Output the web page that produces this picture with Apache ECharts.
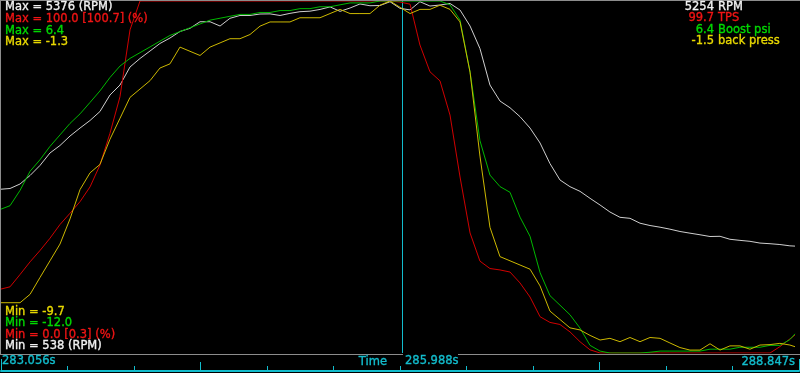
<!DOCTYPE html>
<html><head><meta charset="utf-8">
<script src="https://cdn.jsdelivr.net/npm/echarts@6/dist/echarts.min.js"></script>
<style>html,body{margin:0;padding:0;background:#000;overflow:hidden}#c{width:800px;height:373px}</style>
</head><body><div id="c"></div>
<script>
// Time stamps (s)
const timeSec = [283.056,283.129,283.202,283.275,283.347,283.420,283.493,283.566,283.639,283.712,
283.784,283.857,283.930,284.003,284.076,284.149,284.221,284.294,284.367,284.440,
284.513,284.586,284.659,284.731,284.804,284.877,284.950,285.023,285.096,285.168,
285.241,285.314,285.387,285.460,285.533,285.606,285.678,285.751,285.824,285.897,
285.970,286.043,286.115,286.188,286.261,286.334,286.407,286.480,286.552,286.625,
286.698,286.771,286.844,286.917,286.990,287.062,287.135,287.208,287.281,287.354,
287.427,287.499,287.572,287.645,287.718,287.791,287.864,287.936,288.009,288.082,
288.155,288.228,288.301,288.373,288.446,288.519,288.592,288.665,288.737,288.810,288.847];

const rpm = [2788,2799,2861,2978,3115,3287,3390,3520,3630,3734,
3857,4084,4221,4469,4586,4689,4792,4867,4957,5001,
5091,5091,5032,5138,5177,5177,5197,5199,5177,5206,
5229,5236,5260,5295,5234,5280,5335,5311,5314,5366,
5275,5254,5366,5307,5321,5342,5252,5032,4723,4221,
4001,3909,3786,3630,3424,3142,2916,2824,2760,2664,
2572,2476,2403,2389,2322,2290,2267,2240,2208,2185,
2163,2139,2142,2101,2086,2073,2049,2040,2029,2011,2007];

const tps = [18.1,18.8,22.3,25.9,29.1,32.6,36.5,39.7,43.0,47.2,
53.4,62.4,72.8,91.8,100,100,100,100,100,100,
100,100,100,100,100,100,100,100,100,100,
100,100,100,100,100,100,100,100,100,100,
99.7,99.1,87.5,79.9,77.3,67.6,50.0,34.1,26.1,24.0,
23.6,23.0,19.9,15.9,10.3,8.7,8.1,6.0,3.2,0.9,
0,0,0,0,0,0,0,0,0,0,
0,0,0,0,0,0,0,0,1.8,4.0,5.1];

const boost = [-4.5,-4.3,-3.5,-2.5,-1.9,-1.2,-0.6,0.0,0.5,1.1,
1.7,2.4,3.0,3.4,3.7,4.0,4.3,4.6,4.8,5.0,
5.2,5.4,5.5,5.6,5.7,5.7,5.8,5.8,5.9,5.9,
6.0,6.0,6.1,6.1,6.2,6.3,6.3,6.3,6.4,6.4,
6.4,6.4,6.4,6.4,6.4,6.2,5.4,2.7,-0.9,-2.7,
-3.3,-3.6,-4.9,-5.9,-7.8,-9.0,-9.5,-10.0,-10.7,-11.6,
-11.9,-12.0,-12.0,-12.0,-12.0,-11.96,-11.9,-11.9,-11.9,-11.9,
-11.9,-11.8,-11.8,-11.8,-11.7,-11.7,-11.7,-11.6,-11.6,-11.3,-11.0];

const backPress = [-8.5,-8.5,-8.5,-8.3,-7.9,-7.5,-7.1,-6.5,-5.8,-5.4,
-5.2,-4.6,-4.1,-3.6,-3.4,-3.2,-2.9,-2.8,-2.4,-2.5,
-2.6,-2.4,-2.3,-2.2,-2.2,-2.1,-1.9,-1.8,-1.8,-1.8,
-1.7,-1.7,-1.7,-1.6,-1.5,-1.6,-1.6,-1.6,-1.4,-1.3,
-1.45,-1.6,-1.5,-1.5,-1.4,-1.5,-1.8,-3.0,-5.0,-6.7,
-7.4,-7.5,-7.6,-7.7,-8.1,-8.7,-8.9,-9.1,-9.15,-9.28,
-9.39,-9.35,-9.43,-9.33,-9.43,-9.33,-9.35,-9.46,-9.57,-9.63,
-9.63,-9.48,-9.63,-9.53,-9.53,-9.61,-9.51,-9.50,-9.47,-9.51,-9.55];

// Channel scale (min/max) used for each trace
const rpmScale = [538, 5376];
const tpsScale = [0.0, 100.0];
const boostScale = [-12.0, 6.4];
const backScale = [-9.7, -1.3];

// Cursor readout
const cursorTime = 285.988;
const cursorRpm = 5254, cursorTps = 99.7, cursorBoost = 6.4, cursorBack = -1.5;

// Time strip tick categories
const stripTicks = ['','','','','','','','','','','',''];
const stripMajor = ['',''];
const stripEdge = [''];

const C = {
  white:'#f0f0f0', gray:'#cfcfcf', red:'#f01414', redLine:'#d00000',
  green:'#00d800', greenLine:'#00b800', yellow:'#e8d800', yellowLine:'#ccb800',
  cyan:'#12bccc', frame:'#8c8c8c'
};
const FONT = '11.5px "DejaVu Sans"';

function zip(a){ return timeSec.map((t,i)=>[t,a[i]]); }
function txt(x,y,s,fill,align){
  return {type:'text', z:100, style:{x:x,y:y,text:s,fill:fill,stroke:fill,lineWidth:0.35,font:FONT,textAlign:align||'left',textVerticalAlign:'middle'}};
}
function hidden(idx,sc){ return {gridIndex:0, type:'value', min:sc[0], max:sc[1], show:false}; }

const chart = echarts.init(document.getElementById('c'), null, {renderer:'canvas'});
const lineSeries = (name,data,yi,color)=>({
  name, type:'line', xAxisIndex:0, yAxisIndex:yi, data:zip(data), showSymbol:false,
  symbol:'none', lineStyle:{color, width:1}, itemStyle:{color}, clip:true, animation:false, silent:true
});

chart.setOption({
  backgroundColor:'#000',
  animation:false,
  grid:[
    {left:0, top:1, width:795, height:352, show:false},
    {left:1, top:355, width:798, height:16, show:false}
  ],
  xAxis:[
    {gridIndex:0, type:'value', min:timeSec[0], max:timeSec[timeSec.length-1], show:false},
    {gridIndex:1, type:'category', data:stripTicks, boundaryGap:true, position:'bottom',
     axisLine:{show:true, lineStyle:{color:C.cyan, width:2}},
     axisTick:{show:true, inside:true, length:5, lineStyle:{color:C.cyan, width:1}},
     axisLabel:{show:false}, splitLine:{show:false}},
    {gridIndex:1, type:'category', data:stripMajor, boundaryGap:true, position:'bottom',
     axisLine:{show:false},
     axisTick:{show:true, inside:true, alignWithLabel:true, length:9, lineStyle:{color:C.cyan, width:1}},
     axisLabel:{show:false}, splitLine:{show:false}},
    {gridIndex:1, type:'category', data:stripEdge, boundaryGap:true, position:'bottom',
     axisLine:{show:false},
     axisTick:{show:true, inside:true, length:12, lineStyle:{color:C.cyan, width:1}},
     axisLabel:{show:false}, splitLine:{show:false}}
  ],
  yAxis:[
    hidden(0,rpmScale), hidden(1,tpsScale), hidden(2,boostScale), hidden(3,backScale),
    {gridIndex:1, type:'value', show:false}
  ],
  series:[
    {name:'cursor', type:'line', xAxisIndex:0, yAxisIndex:0,
     data:[[cursorTime, rpmScale[0]],[cursorTime, rpmScale[1]]],
     showSymbol:false, symbol:'none', lineStyle:{color:C.cyan, width:1}, itemStyle:{color:C.cyan},
     clip:false, animation:false, silent:true, z:1},
    lineSeries('RPM', rpm, 0, C.gray),
    lineSeries('TPS', tps, 1, C.redLine),
    lineSeries('Boost psi', boost, 2, C.greenLine),
    lineSeries('back press', backPress, 3, C.yellowLine)
  ],
  graphic:[
    {type:'line', z:50, shape:{x1:0,y1:0.5,x2:800,y2:0.5}, style:{stroke:C.frame,lineWidth:1}},
    {type:'line', z:50, shape:{x1:0.5,y1:0,x2:0.5,y2:355}, style:{stroke:C.frame,lineWidth:1}},
    {type:'line', z:50, shape:{x1:0,y1:354.5,x2:800,y2:354.5}, style:{stroke:C.frame,lineWidth:1}},
    txt(5,7.5,'Max = '+rpmScale[1]+' (RPM)',C.white),
    txt(5,19,'Max = '+tpsScale[1].toFixed(1)+' [100.7] (%)',C.red),
    txt(5,30.7,'Max = '+boostScale[1].toFixed(1),C.green),
    txt(5,42.3,'Max = '+backScale[1].toFixed(1),C.yellow),
    txt(5,312,'Min = '+backScale[0].toFixed(1),C.yellow),
    txt(5,323.5,'Min = '+boostScale[0].toFixed(1),C.green),
    txt(5,335,'Min = '+tpsScale[0].toFixed(1)+' [0.3] (%)',C.red),
    txt(5,346.5,'Min = '+rpmScale[0]+' (RPM)',C.white),
    txt(714,7,String(cursorRpm),C.white,'right'), txt(718,7,'RPM',C.white),
    txt(714,18.4,cursorTps.toFixed(1),C.red,'right'), txt(718,18.4,'TPS',C.red),
    txt(714,29.8,cursorBoost.toFixed(1),C.green,'right'), txt(718,29.8,'Boost psi',C.green),
    txt(714,41.2,cursorBack.toFixed(1),C.yellow,'right'), txt(718,41.2,'back press',C.yellow),
    {type:'rect', z:99, shape:{x:403,y:352,width:55,height:17}, style:{fill:'#000'}},
    txt(2,361.5,timeSec[0].toFixed(3)+'s',C.cyan),
    txt(387,362.5,'Time',C.cyan,'right'),
    txt(405,361,cursorTime.toFixed(3)+'s',C.cyan),
    txt(795,361.7,timeSec[timeSec.length-1].toFixed(3)+'s',C.cyan,'right')
  ]
});
</script>
</body></html>
